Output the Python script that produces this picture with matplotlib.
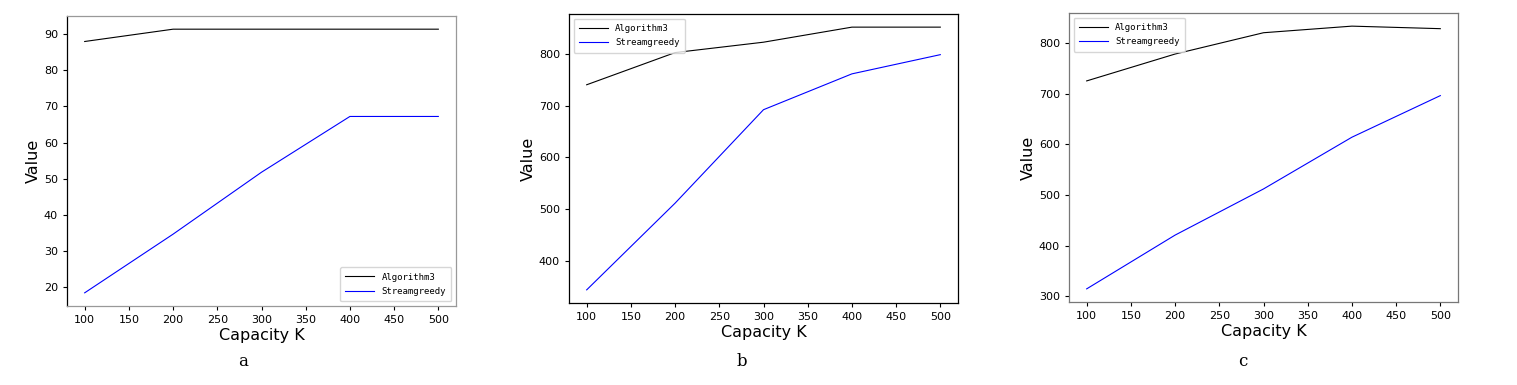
import matplotlib
matplotlib.use("Agg")
import matplotlib.pyplot as plt

capacity = [100, 200, 300, 400, 500]
alg3_a = [87.9, 91.3, 91.3, 91.3, 91.3]
sg_a = [18.5, 34.7, 51.8, 67.2, 67.2]
alg3_b = [740, 802, 822, 851, 851]
sg_b = [345, 512, 692, 761, 798]
alg3_c = [725, 778, 820, 833, 828]
sg_c = [315, 421, 512, 614, 696]
captions = ["a", "b", "c"]
xticks = [100, 150, 200, 250, 300, 350, 400, 450, 500]

W, H = 1517, 385
fig = plt.figure(figsize=(W / 100, H / 100), dpi=100)

boxes = [(67, 16, 456, 306), (569, 14, 958, 303), (1069, 13, 1458, 302)]
spine_colors = [
    {"left": "black", "bottom": "#999999", "top": "#999999", "right": "#999999"},
    {"left": "black", "bottom": "black", "top": "black", "right": "black"},
    {"left": "#777777", "bottom": "#777777", "top": "#777777", "right": "#777777"},
]
legend_locs = ["lower right", "upper left", "upper left"]
data = [(alg3_a, sg_a), (alg3_b, sg_b), (alg3_c, sg_c)]
cap_x = [243, 742, 1243]

for i, (x0, y0, x1, y1) in enumerate(boxes):
    ax = fig.add_axes([x0 / W, 1 - y1 / H, (x1 - x0) / W, (y1 - y0) / H])
    a3, sg = data[i]
    ax.plot(capacity, a3, color="black", lw=0.8, label="Algorithm3")
    ax.plot(capacity, sg, color="blue", lw=0.8, label="Streamgreedy")
    ax.set_xticks(xticks)
    ax.tick_params(labelsize=8, length=3, width=0.8)
    ax.set_xlabel("Capacity K", fontsize=11.5, labelpad=2)
    ax.set_ylabel("Value", fontsize=11.5, labelpad=2)
    for name, s in ax.spines.items():
        s.set_color(spine_colors[i][name])
        s.set_linewidth(0.9)
    ax.legend(loc=legend_locs[i], prop={"family": "DejaVu Sans Mono", "size": 6.5},
              handlelength=3.2, borderpad=0.6, labelspacing=0.6)
    fig.text(cap_x[i] / W, 1 - 361 / H, captions[i], fontsize=12, family="serif",
             ha="center", va="center")

fig.savefig("out.png", dpi=100)
